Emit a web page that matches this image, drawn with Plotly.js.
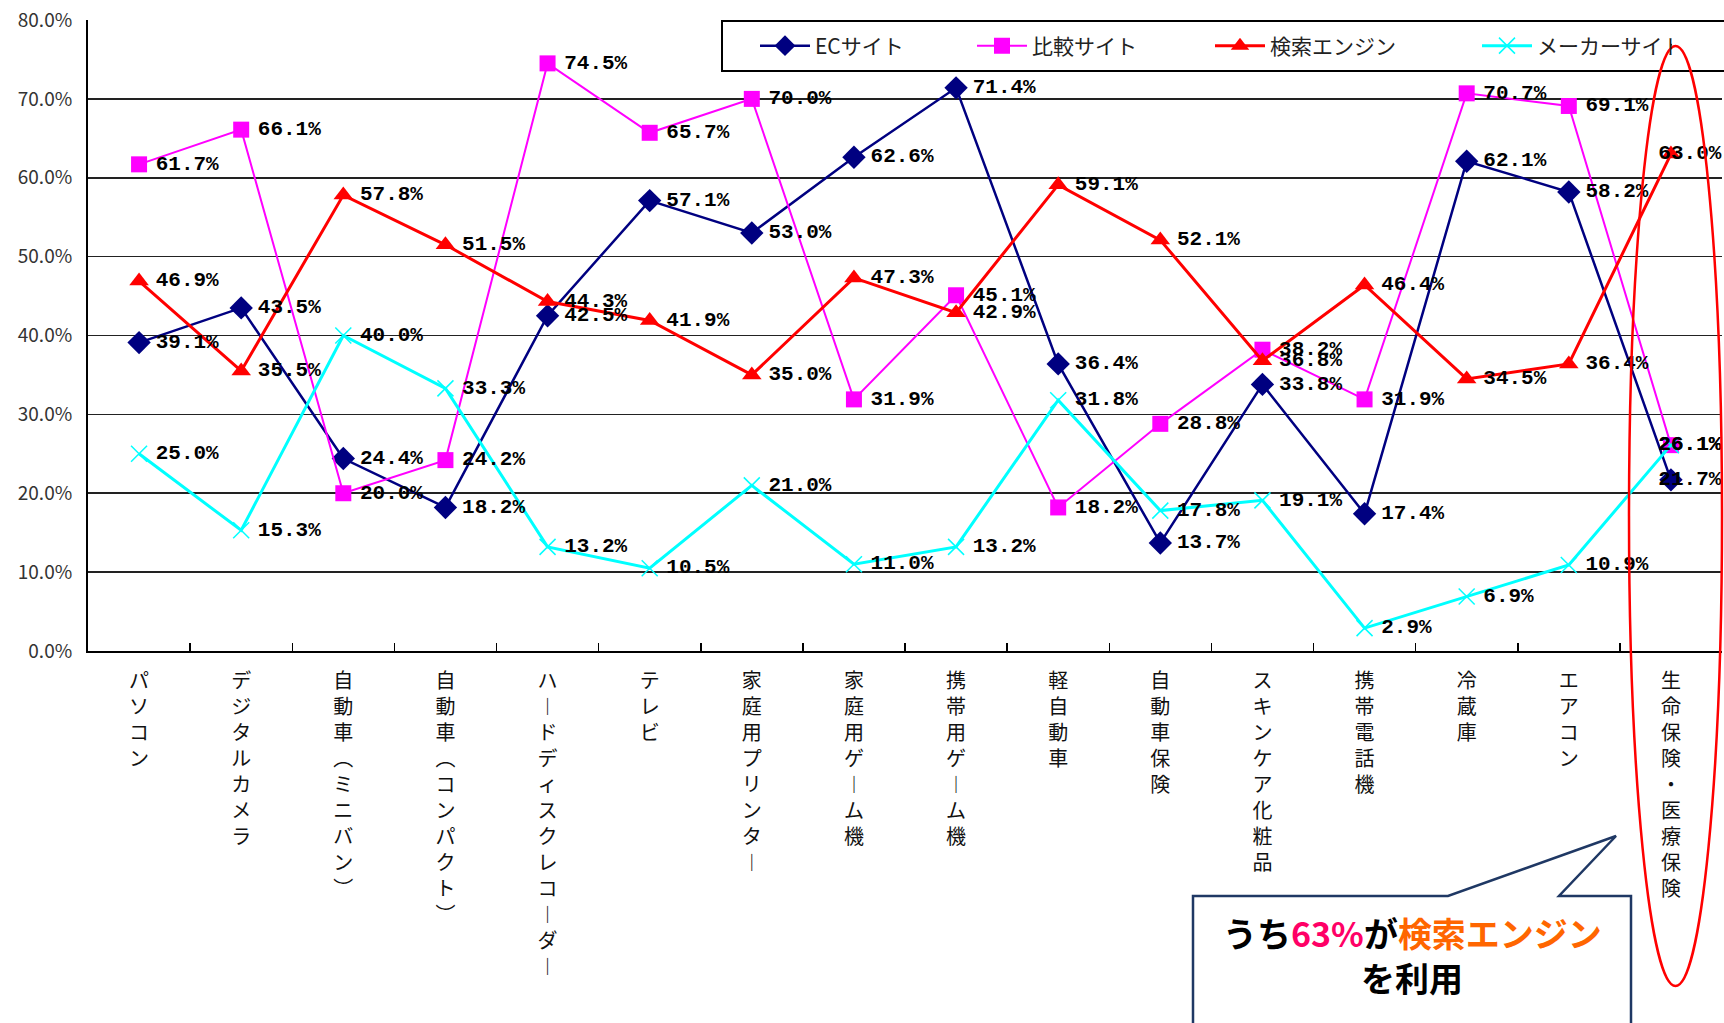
<!DOCTYPE html>
<html><head><meta charset="utf-8">
<script src="https://cdn.plot.ly/plotly-3.0.1.min.js"></script>
<style>html,body{margin:0;padding:0;background:#fff}</style>
</head><body>
<div id="chart" style="width:1724px;height:1023px"></div>
<script>
const categories = ['パソコン','デジタルカメラ','自動車（ミニバン）','自動車（コンパクト）','ハードディスクレコーダー','テレビ','家庭用プリンター','家庭用ゲーム機','携帯用ゲーム機','軽自動車','自動車保険','スキンケア化粧品','携帯電話機','冷蔵庫','エアコン','生命保険・医療保険'];
const ecSite       = [39.1, 43.5, 24.4, 18.2, 42.5, 57.1, 53.0, 62.6, 71.4, 36.4, 13.7, 33.8, 17.4, 62.1, 58.2, 21.7];
const compareSite  = [61.7, 66.1, 20.0, 24.2, 74.5, 65.7, 70.0, 31.9, 45.1, 18.2, 28.8, 38.2, 31.9, 70.7, 69.1, 26.1];
const searchEngine = [46.9, 35.5, 57.8, 51.5, 44.3, 41.9, 35.0, 47.3, 42.9, 59.1, 52.1, 36.8, 46.4, 34.5, 36.4, 63.0];
const makerSite    = [25.0, 15.3, 40.0, 33.3, 13.2, 10.5, 21.0, 11.0, 13.2, 31.8, 17.8, 19.1, 2.9, 6.9, 10.9, 26.1];
const seriesNames  = ['ECサイト','比較サイト','検索エンジン','メーカーサイト'];
const yTicks       = [0, 10, 20, 30, 40, 50, 60, 70, 80];
const yTickText    = ['0.0%', '10.0%', '20.0%', '30.0%', '40.0%', '50.0%', '60.0%', '70.0%', '80.0%'];
const calloutLine1 = ['うち', '63%', 'が', '検索エンジン'];
const calloutLine2 = 'を利用';

const W = 1724, H = 1023, M = {l: 88, r: 2, t: 20, b: 372};
const pw = W - M.l - M.r, ph = H - M.t - M.b;
const px = x => (x - M.l) / pw;
const py = y => (H - M.b - y) / ph;

function vertical(s) {
  const map = {'（': '︵', '）': '︶', 'ー': '︱'};
  return Array.from(s).map(c => map[c] || c).join('<br>');
}

const labelFont = {family: 'Liberation Mono, DejaVu Sans Mono, monospace', size: 21, color: '#000', weight: 'bold'};
const lastIdx = categories.length - 1;
const labelPositions = categories.map((c, i) => i === lastIdx ? 'middle center' : 'middle right');
const labelTemplates = categories.map((c, i) => i === lastIdx ? '\u00a0\u00a0\u00a0%{y:.1f}%' : '%{y:.1f}%');

function series(name, y, color, lw, symbol, msize, mline, legendwidth) {
  return {
    type: 'scatter', mode: 'lines+markers', name: name,
    x: categories, y: y,
    line: {color: color, width: lw},
    marker: {symbol: symbol, size: msize, color: color, line: mline},
    cliponaxis: false, legendwidth: legendwidth
  };
}
function labels(name, y) {
  return {
    type: 'scatter', mode: 'markers+text', name: name + ' labels', showlegend: false,
    x: categories, y: y,
    marker: {size: 25, opacity: 0, color: '#fff'},
    texttemplate: labelTemplates, textposition: labelPositions, textfont: labelFont,
    cliponaxis: false, hoverinfo: 'skip'
  };
}

const data = [
  series(seriesNames[0], ecSite, '#000080', 2.5, 'diamond', 18, {width: 0}, 152),
  series(seriesNames[1], compareSite, '#FF00FF', 2, 'square', 16, {width: 0}, 173),
  series(seriesNames[2], searchEngine, '#FF0000', 3, 'triangle-up', 17, {width: 0}, 202),
  series(seriesNames[3], makerSite, '#00FFFF', 3, 'x-thin', 16, {width: 1.5, color: '#00FFFF'}, 130),
  labels(seriesNames[0], ecSite),
  labels(seriesNames[1], compareSite),
  labels(seriesNames[2], searchEngine),
  labels(seriesNames[3], makerSite)
];

const layout = {
  width: W, height: H,
  margin: M,
  paper_bgcolor: '#fff', plot_bgcolor: '#fff',
  showlegend: true,
  legend: {
    orientation: 'h', x: px(755), y: py(46), xanchor: 'left', yanchor: 'middle',
    bgcolor: 'rgba(0,0,0,0)', borderwidth: 0, itemwidth: 50,
    font: {family: 'Noto Sans CJK JP, sans-serif', size: 21, color: '#222'}
  },
  xaxis: {
    type: 'category', range: [-0.5, categories.length - 0.5], automargin: false,
    tickmode: 'array', tickvals: categories, ticktext: categories.map(vertical),
    tickangle: 0, tickson: 'boundaries', ticks: 'inside', ticklen: 8, tickwidth: 1.5, tickcolor: '#000',
    showline: true, linecolor: '#000', linewidth: 2, showgrid: false, zeroline: false,
    ticklabelstandoff: 11,
    tickfont: {family: 'Noto Sans CJK JP, sans-serif', size: 20, color: '#111'}
  },
  yaxis: {
    range: [0, 80], tickmode: 'array', tickvals: yTicks, ticktext: yTickText, automargin: false,
    showgrid: true, gridcolor: '#222', gridwidth: 1.6, zeroline: false,
    showline: true, linecolor: '#000', linewidth: 2, ticks: '',
    ticklabelstandoff: 10,
    tickfont: {family: 'Noto Sans CJK JP, sans-serif', size: 19, color: '#333'}
  },
  shapes: [
    {type: 'rect', xref: 'paper', yref: 'paper', x0: px(722), x1: px(1740), y0: py(71), y1: py(21),
     line: {color: '#000', width: 2}, fillcolor: '#fff', layer: 'above'},
    {type: 'path', xref: 'paper', yref: 'paper', layer: 'above',
     path: 'M' + px(1193) + ',' + py(896) + ' L' + px(1448) + ',' + py(896) + ' L' + px(1616) + ',' + py(836) +
           ' L' + px(1559) + ',' + py(896) + ' L' + px(1631) + ',' + py(896) + ' L' + px(1631) + ',' + py(1040) +
           ' L' + px(1193) + ',' + py(1040) + ' Z',
     line: {color: '#1F3864', width: 2.5}, fillcolor: '#fff'},
    {type: 'circle', xref: 'paper', yref: 'paper', x0: px(1629), x1: px(1722), y0: py(986), y1: py(46),
     line: {color: '#FF0000', width: 2.5}, layer: 'above'}
  ],
  annotations: [
    {xref: 'paper', yref: 'paper', x: px(1412), y: py(932), showarrow: false, xanchor: 'center', yanchor: 'middle',
     text: '<b>' + calloutLine1[0] + '<span style="color:#FF0066">' + calloutLine1[1] + '</span>' + calloutLine1[2] +
           '<span style="color:#FF6600">' + calloutLine1[3] + '</span></b>',
     font: {family: 'Noto Sans CJK JP, sans-serif', size: 34, color: '#000'}},
    {xref: 'paper', yref: 'paper', x: px(1412), y: py(977), showarrow: false, xanchor: 'center', yanchor: 'middle',
     text: '<b>' + calloutLine2 + '</b>',
     font: {family: 'Noto Sans CJK JP, sans-serif', size: 34, color: '#000'}}
  ]
};

Plotly.newPlot('chart', data, layout, {displayModeBar: false, staticPlot: true});
</script>
</body></html>
